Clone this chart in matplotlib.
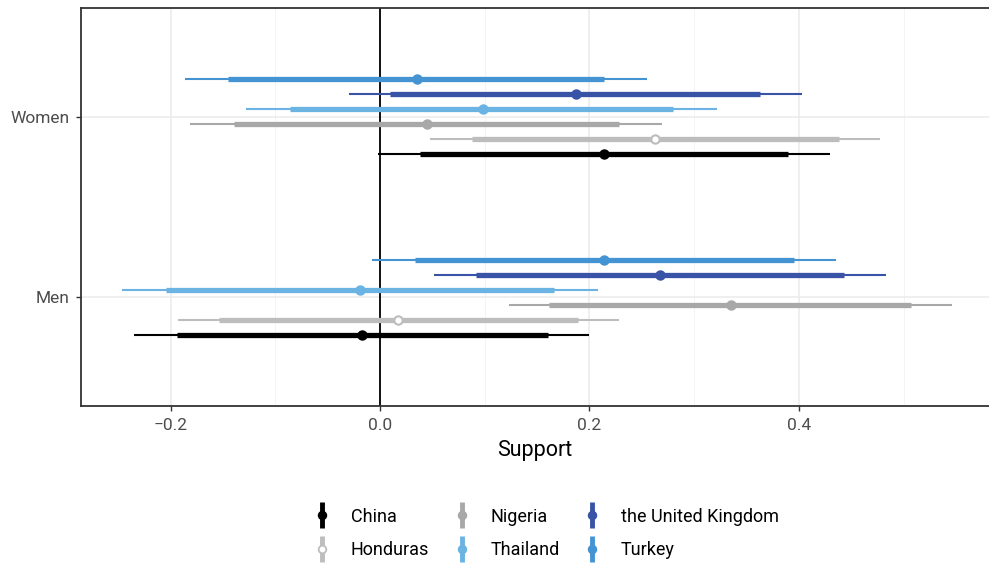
import matplotlib.pyplot as plt
from matplotlib.lines import Line2D
from matplotlib.legend_handler import HandlerTuple

plt.rcParams['font.family'] = ['Roboto', 'DejaVu Sans']

countries = ['China', 'Honduras', 'Nigeria', 'Thailand', 'the United Kingdom', 'Turkey']
colors = ['#000000', '#BDBDBD', '#A8A8A8', '#6BB3E3', '#3953A6', '#4494D4']
groups = ['Men', 'Women']

# estimates per country: [Men, Women]
est = {
    'China':              [-0.017, 0.214],
    'Honduras':           [0.017, 0.263],
    'Nigeria':            [0.335, 0.045],
    'Thailand':           [-0.019, 0.098],
    'the United Kingdom': [0.267, 0.187],
    'Turkey':             [0.214, 0.035],
}
# inner (thick) interval
inner_lo = {
    'China':              [-0.194, 0.038],
    'Honduras':           [-0.154, 0.088],
    'Nigeria':            [0.161, -0.139],
    'Thailand':           [-0.204, -0.086],
    'the United Kingdom': [0.092, 0.010],
    'Turkey':             [0.033, -0.145],
}
inner_hi = {
    'China':              [0.160, 0.390],
    'Honduras':           [0.189, 0.438],
    'Nigeria':            [0.507, 0.228],
    'Thailand':           [0.166, 0.280],
    'the United Kingdom': [0.443, 0.363],
    'Turkey':             [0.395, 0.214],
}
# outer (thin) interval
outer_lo = {
    'China':              [-0.235, -0.002],
    'Honduras':           [-0.193, 0.048],
    'Nigeria':            [0.123, -0.181],
    'Thailand':           [-0.246, -0.128],
    'the United Kingdom': [0.052, -0.030],
    'Turkey':             [-0.008, -0.186],
}
outer_hi = {
    'China':              [0.200, 0.430],
    'Honduras':           [0.228, 0.478],
    'Nigeria':            [0.546, 0.269],
    'Thailand':           [0.208, 0.322],
    'the United Kingdom': [0.483, 0.403],
    'Turkey':             [0.436, 0.255],
}

fig = plt.figure(figsize=(9.89, 5.63), dpi=100)
ax = fig.add_axes([81 / 989, 1 - 406 / 563, 1 - 81 / 989, (406 - 8) / 563])

dodge = 0.5
n = len(countries)
for i, (c, col) in enumerate(zip(countries, colors)):
    off = -dodge / 2 + dodge / n * (i + 0.5)
    for g in range(len(groups)):
        y = g + 1 + off
        ax.plot([outer_lo[c][g], outer_hi[c][g]], [y, y], color=col, lw=1.5,
                solid_capstyle='butt', zorder=3)
        ax.plot([inner_lo[c][g], inner_hi[c][g]], [y, y], color=col, lw=3.8,
                solid_capstyle='butt', zorder=4)
        face = 'white' if c == 'Honduras' else col
        ax.plot(est[c][g], y, 'o', ms=6, mfc=face, mec=col, mew=1.5, zorder=5)

ax.axvline(0, color='black', lw=1.3, zorder=2)

ax.set_xlim((81 - 380) / 1047, (989 - 380) / 1047)
ax.set_ylim(0.4, 2.6)
ax.set_xticks([-0.2, 0.0, 0.2, 0.4])
ax.set_xticklabels(['\u22120.2', '0.0', '0.2', '0.4'])
ax.set_xticks([-0.1, 0.1, 0.3, 0.5], minor=True)
ax.set_yticks([1, 2])
ax.set_yticklabels(groups)
ax.grid(True, which='major', color='#EBEBEB', lw=1.1, zorder=0)
ax.grid(True, which='minor', axis='x', color='#F2F2F2', lw=0.6, zorder=0)
ax.set_axisbelow(True)
ax.tick_params(axis='both', which='major', colors='#333333', labelcolor='#4D4D4D',
               labelsize=12.5, length=3.5, width=1, pad=5)
ax.tick_params(axis='x', which='minor', length=0)
for s in ['left', 'bottom', 'top']:
    ax.spines[s].set_color('#333333')
    ax.spines[s].set_linewidth(1.3)
ax.spines['right'].set_visible(False)
ax.set_xlabel('Support', fontsize=15.5, labelpad=5)

handles = []
for c, col in zip(countries, colors):
    bar = Line2D([], [], marker='|', ms=19, mew=3.5, color=col, ls='none')
    face = 'white' if c == 'Honduras' else col
    pt = Line2D([], [], marker='o', ms=5.5, mfc=face, mec=col, mew=1.3, ls='none')
    handles.append((bar, pt))

fig.legend(handles, countries, handler_map={tuple: HandlerTuple(ndivide=1)},
           loc='lower center', bbox_to_anchor=(0.552, -0.022), ncol=3, frameon=False,
           fontsize=13, handlelength=1.0, columnspacing=1.3, labelspacing=0.85,
           handletextpad=1.1)

fig.savefig('out.png', dpi=100)
